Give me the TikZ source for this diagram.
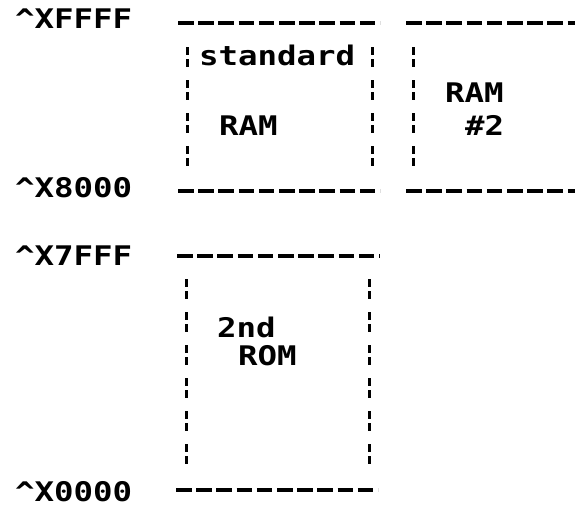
\documentclass[tikz,border=0pt]{standalone}
\usepackage{fontspec}
\setmonofont{DejaVu Sans Mono}[FakeStretch=1.2]
\begin{document}
\begin{tikzpicture}[x=1pt,y=-1pt,
  lbl/.style={anchor=base west,inner sep=0pt,font=\ttfamily\bfseries\fontsize{27}{27}\selectfont},
  hdash/.style={line width=3.6pt,dash pattern=on 15.5pt off 4.7pt},
  vdash/.style={line width=3pt,dash pattern=on 8pt off 4pt on 8pt off 13pt}]
\useasboundingbox (0,0) rectangle (575,506);
% address labels
\node[lbl] (aFFFF) at (15,28) {\textasciicircum XFFFF};
\node[lbl] (a8000) at (15,197) {\textasciicircum X8000};
\node[lbl] (a7FFF) at (15,265) {\textasciicircum X7FFF};
\node[lbl] (a0000) at (15,501) {\textasciicircum X0000};
% coordinates
\coordinate (t1a) at (178,23);  \coordinate (t1b) at (380,23);
\coordinate (t2a) at (406,23);  \coordinate (t2b) at (575,23);
\coordinate (b1a) at (178,191); \coordinate (b1b) at (380,191);
\coordinate (b2a) at (406,191); \coordinate (b2b) at (575,191);
\coordinate (r1a) at (177,256); \coordinate (r1b) at (380,256);
\coordinate (r2a) at (176,490); \coordinate (r2b) at (378,490);
\coordinate (v1a) at (187,47);  \coordinate (v1b) at (187,168);
\coordinate (v2a) at (372,47);  \coordinate (v2b) at (372,168);
\coordinate (v3a) at (413,47);  \coordinate (v3b) at (413,168);
\coordinate (v4a) at (186,279); \coordinate (v4b) at (186,470);
\coordinate (v5a) at (369,279); \coordinate (v5b) at (369,470);
% horizontal dashed rules
\draw[hdash] (t1a) -- (t1b);
\draw[hdash] (t2a) -- (t2b);
\draw[hdash] (b1a) -- (b1b);
\draw[hdash] (b2a) -- (b2b);
\draw[hdash] (r1a) -- (r1b);
\draw[hdash] (r2a) -- (r2b);
% vertical dashed rules
\draw[vdash] (v1a) -- (v1b);
\draw[vdash] (v2a) -- (v2b);
\draw[vdash] (v3a) -- (v3b);
\draw[vdash] (v4a) -- (v4b);
\draw[vdash] (v5a) -- (v5b);
% box texts
\node[lbl] (std) at (199,65) {standard};
\node[lbl] (ram1) at (219,135) {RAM};
\node[lbl] (ram2) at (445,102) {RAM};
\node[lbl] (n2) at (465,135) {\#2};
\node[lbl] (snd) at (217,337) {2nd};
\node[lbl] (rom) at (238,365) {ROM};
\end{tikzpicture}
\end{document}
